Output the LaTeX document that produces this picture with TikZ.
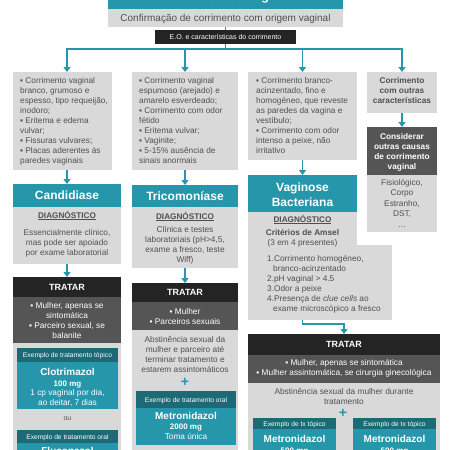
\documentclass[tikz,border=0pt]{standalone}
\usepackage{fontspec}
\setmainfont{Liberation Sans}
\usetikzlibrary{arrows.meta}
\definecolor{teal1}{RGB}{38,150,170}
\definecolor{teal2}{RGB}{27,106,118}
\definecolor{blk}{RGB}{36,36,36}
\definecolor{dgr}{RGB}{85,85,85}
\definecolor{lgr}{RGB}{217,217,217}
\definecolor{tgr}{RGB}{80,80,80}
\newcommand\mybox[6]{\node[#2,anchor=north west,minimum width={(#5-#3)*1pt},minimum height={(#6-#4)*1pt}] (#1) at (#3,#4) {};}
\newcommand\fs[2]{\fontsize{#1}{#2}\selectfont}
\begin{document}
\begin{tikzpicture}[x=1pt,y=-1pt,
  box/.style={inner sep=0pt,outer sep=0pt,draw=none},
  tealbox/.style={box,fill=teal1},
  greybox/.style={box,fill=lgr},
  blkbox/.style={box,fill=blk},
  dgrbox/.style={box,fill=dgr},
  hdbox/.style={box,fill=teal2},
  txt/.style={inner sep=0pt,font=\fs{8.3}{10},text=tgr},
  wtxt/.style={txt,text=white},
  ttl/.style={wtxt,font=\bfseries\fs{12}{15},anchor=base,align=center},
  tratar/.style={wtxt,font=\bfseries\fs{9}{11},anchor=base},
  diag/.style={txt,font=\bfseries\fs{8.2}{10},anchor=base},
  exh/.style={wtxt,font=\fs{6.7}{8},anchor=base},
  drug/.style={wtxt,font=\bfseries\fs{10}{12},anchor=base},
  dose/.style={wtxt,font=\bfseries\fs{8}{10},anchor=base},
  plus/.style={inner sep=0pt,text=teal1,font=\bfseries\fs{14}{14}},
  ln/.style={draw=teal1,line width=1.8pt},
  arr/.style={ln,-{Triangle[width=7pt,length=5pt]}}]
\useasboundingbox (0,0) rectangle (450,450);
\clip (0,0) rectangle (450,450);
% top
\mybox{hdr}{tealbox}{108}{-20}{343}{9}
\node[wtxt,font=\bfseries\fs{12.5}{15},anchor=base] (hdrt) at (225.5,0.8) {Exame Ginecológico};
\mybox{conf}{greybox}{108}{9}{343}{27}
\node[txt,font=\fs{10}{12},anchor=base] (conft) at (225.5,21.6) {Confirmação de corrimento com origem vaginal};
\mybox{eo}{blkbox}{155}{30}{296}{44}
\node[wtxt,font=\fs{7}{8},anchor=base] (eot) at (225.5,39.5) {E.O. e características do corrimento};
\coordinate (hub) at (225.5,49);
\draw[ln] (conf.south) -- (eo.north);
\draw[ln] (eo.south) -- (hub);
% columns
\mybox{g1}{greybox}{13}{72}{112}{170}
\mybox{g2}{greybox}{132}{72}{238}{170}
\mybox{g3}{greybox}{248}{72}{357}{160}
\mybox{g4}{greybox}{367}{72}{437}{113}
\coordinate (g1top) at (67,72);
\coordinate (g1bot) at (67,170);
\draw[arr,line join=miter] (hub) -| (g1top);
\draw[arr,line join=miter] (hub) -| (g2.north);
\draw[arr,line join=miter] (hub) -| (g3.north);
\draw[arr,line join=miter] (hub) -| (g4.north);
\node[txt,anchor=base west,align=left] (g1t) at (20,163) {▪ Corrimento vaginal\\branco, grumoso e\\espesso, tipo requeijão,\\inodoro;\\▪ Eritema e edema\\vulvar;\\▪ Fissuras vulvares;\\▪ Placas aderentes ás\\paredes vaginais};
\node[txt,anchor=base west,align=left] (g2t) at (139,163) {▪ Corrimento vaginal\\espumoso (arejado) e\\amarelo esverdeado;\\▪ Corrimento com odor\\fétido\\▪ Eritema vulvar;\\▪ Vaginite;\\▪ 5-15\% ausência de\\sinais anormais};
\node[txt,anchor=base west,align=left] (g3t) at (256,153) {▪ Corrimento branco-\\acinzentado, fino e\\homogéneo, que reveste\\as paredes da vagina e\\vestíbulo;\\▪ Corrimento com odor\\intenso a peixe, não\\irritativo};
\node[txt,font=\bfseries\fs{8.3}{10},anchor=base,align=center] (g4t) at (402,103) {Corrimento\\com outras\\características};
\mybox{cons}{dgrbox}{367}{127}{437}{175}
\draw[arr] (g4.south) -- (cons.north);
\node[wtxt,font=\bfseries\fs{8.3}{10.3},anchor=base,align=center] (const) at (402,169.9) {Considerar\\outras causas\\de corrimento\\vaginal};
\mybox{oth}{greybox}{367}{175}{437}{232}
\node[txt,font=\fs{8.3}{10.5},anchor=base,align=center] (otht) at (402,227) {Fisiológico,\\Corpo\\Estranho,\\DST,\\…};
% Candidiase
\mybox{cand}{tealbox}{13}{184}{121}{207}
\draw[arr] (g1bot) -- (cand.north);
\node[ttl] (candn) at (67,199.8) {Candidiase};
\mybox{candd}{greybox}{13}{207}{121}{264}
\node[diag] (canddg) at (67,218) {\underline{DIAGNÓSTICO}};
\node[txt,anchor=base,align=center] (canddt) at (67,255) {Essencialmente clínico,\\mas pode ser apoiado\\por exame laboratorial};
\mybox{candt}{blkbox}{13}{277}{121}{297}
\draw[arr] (candd.south) -- (candt.north);
\node[tratar] (candtt) at (67,290.3) {TRATAR};
\mybox{candb}{dgrbox}{13}{297}{121}{343}
\node[wtxt,anchor=base,align=center] (candbt) at (67,338) {▪ Mulher, apenas se\\sintomática\\▪ Parceiro sexual, se\\balanite};
\mybox{candl}{greybox}{13}{343}{121}{460}
\mybox{ex1h}{hdbox}{17}{348}{118}{362}
\node[exh] (ex1ht) at (67.5,357.5) {Exemplo de tratamento tópico};
\mybox{ex1b}{tealbox}{17}{362}{118}{409}
\node[drug] (ex1d) at (67.5,375.5) {Clotrimazol};
\node[dose] (ex1m) at (67.5,386) {100 mg};
\node[wtxt,anchor=base,align=center] (ex1t) at (67.5,405) {1 cp vaginal por dia,\\ao deitar, 7 dias};
\node[txt,font=\fs{7}{8},anchor=base] (ou) at (67.5,420.5) {ou};
\mybox{ex2h}{hdbox}{17}{430}{118}{443}
\node[exh] (ex2ht) at (67.5,439) {Exemplo de tratamento oral};
\mybox{ex2b}{tealbox}{17}{443}{118}{470}
\node[drug] (ex2d) at (67.5,454) {Fluconazol};
% Tricomoniase
\mybox{tric}{tealbox}{132}{185}{238}{207}
\draw[arr] (g2.south) -- (tric.north);
\node[ttl] (tricn) at (185,200.3) {Tricomoníase};
\mybox{tricd}{greybox}{132}{207}{238}{268}
\node[diag] (tricdg) at (185,219) {\underline{DIAGNÓSTICO}};
\node[txt,font=\fs{8.3}{10.3},anchor=base,align=center] (tricdt) at (185,262.9) {Clínica e testes\\laboratoriais (pH>4,5,\\exame a fresco, teste\\Wiff)};
\mybox{trict}{blkbox}{132}{283}{238}{302}
\draw[arr] (tricd.south) -- (trict.north);
\node[tratar] (trictt) at (185,295.8) {TRATAR};
\mybox{tricb}{dgrbox}{132}{302}{238}{330}
\node[wtxt,anchor=base,align=center] (tricbt) at (185,324) {▪ Mulher\\▪ Parceiros sexuais};
\mybox{tricl}{greybox}{132}{330}{238}{460}
\node[txt,anchor=base,align=center] (triclt) at (185,372) {Abstinência sexual da\\mulher e parceiro até\\terminar tratamento e\\estarem assintomáticos};
\node[plus] (plus1) at (185,382) {+};
\mybox{ex3h}{hdbox}{136}{391}{236}{408}
\node[exh] (ex3ht) at (186,402) {Exemplo de tratamento oral};
\mybox{ex3b}{tealbox}{136}{408}{236}{445}
\node[drug] (ex3d) at (186,419.5) {Metronidazol};
\node[dose] (ex3m) at (186,429) {2000 mg};
\node[wtxt,anchor=base] (ex3t) at (186,439) {Toma única};
% Vaginose
\mybox{vag}{tealbox}{248}{175}{357}{212}
\draw[arr] (g3.south) -- (vag.north);
\node[ttl] (vagn) at (302.5,206.3) {Vaginose\\Bacteriana};
\mybox{vagd1}{greybox}{248}{212}{357}{246}
\mybox{vagd2}{greybox}{248}{245}{392}{320}
\node[diag] (vagdg) at (302.5,222) {\underline{DIAGNÓSTICO}};
\node[txt,font=\bfseries\fs{8.3}{10},anchor=base] (vagam) at (302.5,235) {Critérios de Amsel};
\node[txt,anchor=base] (vag34) at (302.5,245) {(3 em 4 presentes)};
\node[txt,anchor=base west,align=left] (vagl) at (267,311) {1.Corrimento homogéneo,\\\hspace*{6pt}branco-acinzentado\\2.pH vaginal > 4.5\\3.Odor a peixe\\4.Presença de \textit{clue cells} ao\\\hspace*{6pt}exame microscópico a fresco};
\mybox{vagt}{blkbox}{248}{334}{440}{355}
\draw[arr,line join=miter] (vag.south |- vagd2.south) -- ++(0,4) -| (vagt.north);
\node[tratar] (vagtt) at (344,347.8) {TRATAR};
\mybox{vagb}{dgrbox}{248}{355}{440}{383}
\node[wtxt,anchor=base,align=center] (vagbt) at (344,375) {▪ Mulher, apenas se sintomática\\▪ Mulher assintomática, se cirurgia ginecológica};
\mybox{vagl2}{greybox}{248}{383}{440}{460}
\node[txt,font=\fs{8.3}{9.5},anchor=base,align=center] (vaglt) at (344,404) {Abstinência sexual da mulher durante\\tratamento};
\node[plus] (plus2) at (343,413.5) {+};
\mybox{ex4h}{hdbox}{253}{418}{336}{429}
\node[exh] (ex4ht) at (294.5,426) {Exemplo de tx tópico};
\mybox{ex4b}{tealbox}{253}{429}{336}{470}
\node[drug] (ex4d) at (294.5,442.5) {Metronidazol};
\node[dose] (ex4m) at (294.5,453) {500 mg};
\mybox{ex5h}{hdbox}{353}{418}{436}{429}
\node[exh] (ex5ht) at (394.5,426) {Exemplo de tx tópico};
\mybox{ex5b}{tealbox}{353}{429}{436}{470}
\node[drug] (ex5d) at (394.5,442.5) {Metronidazol};
\node[dose] (ex5m) at (394.5,453) {500 mg};
\end{tikzpicture}
\end{document}
